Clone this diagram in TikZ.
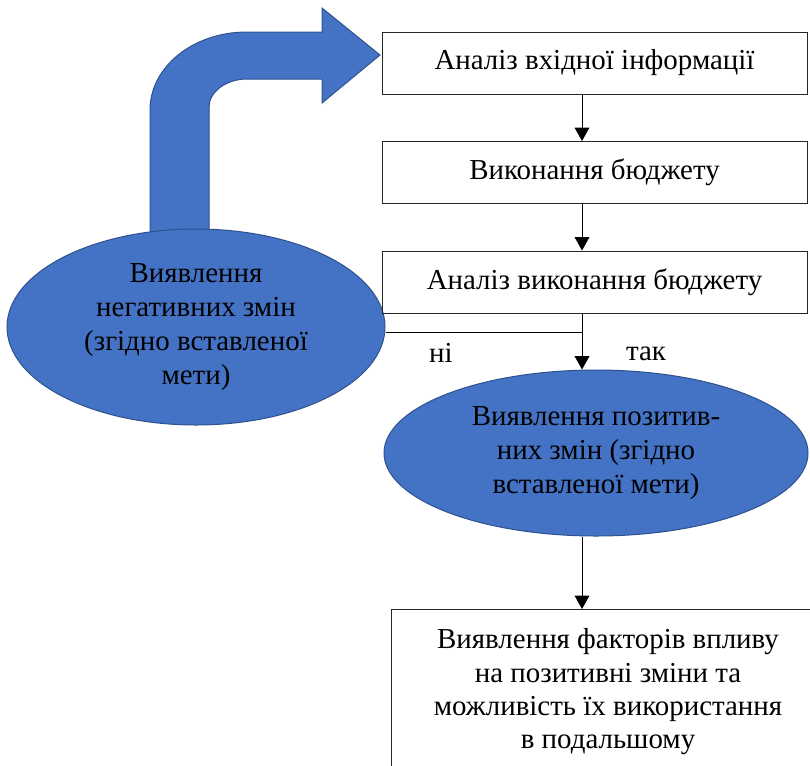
\documentclass[tikz,border=0pt]{standalone}
\usepackage{fontspec}
\setmainfont{Liberation Serif}
\usetikzlibrary{positioning, shapes, arrows.meta}
\definecolor{officeblue}{HTML}{4472C4}
\definecolor{officeedge}{HTML}{2F528F}

\begin{document}
\begin{tikzpicture}[x=0.75pt, y=-0.75pt,
    box/.style={draw=black!85, line width=0.75pt, minimum width=318.75pt, minimum height=46.5pt, inner sep=0pt, font=\fontsize{21.7}{25}\selectfont},
    goal/.style={ellipse, fill=officeblue, draw=officeedge, line width=0.75pt, inner sep=-6pt, align=center, font=\fontsize{21.7}{25.5}\selectfont},
    link/.style={line width=0.75pt, -{Triangle[width=11pt,length=10pt]}},
    lbl/.style={anchor=base, font=\fontsize{21.7}{25}\selectfont}]
      \useasboundingbox (0,0) rectangle (810,765);
      \clip (0,0) rectangle (810,765);
      % bent arrow back to the first step
      \draw[fill=officeblue, draw=officeedge, line width=0.75pt] (150,250) -- (150,110) .. controls (150,67) and (193,32) .. (247,32) -- (322,32) -- (322,8) -- (380,55) -- (322,103) -- (322,79) -- (247,79) .. controls (226,79) and (209,92) .. (209,107) -- (209,250) -- cycle;
      \node[goal, minimum width=283.5pt, minimum height=147pt] (neg) at (196,327) {Виявлення\\негативних змін\\(згідно вставленої\\мети)};
      \node[box] (b1) at (594.5,63) {Аналіз вхідної інформації};
      \node[box] (b2) at (594.5,172.5) {Виконання бюджету};
      \node[box] (b3) at (594.5,282) {Аналіз виконання бюджету};
      \node[goal, minimum width=318pt, minimum height=124.5pt] (pos) at (596,453) {Виявлення позитив-\\них змін (згідно\\вставленої мети)};
      \node[box, anchor=north, minimum width=325.5pt, align=center, inner ysep=14.5pt] (b4) at (608,609) {Виявлення факторів впливу\\на позитивні зміни та\\можливість їх використання\\в подальшому};
      \coordinate (split) at (582,332);
      \draw[link] (b1.south -| split) -- (b2.north -| split);
      \draw[link] (b2.south -| split) -- (b3.north -| split);
      \draw[link] (b3.south -| split) -- (split |- pos.north);
      \draw[line width=0.75pt] (split) -- (split -| neg.east);
      \draw[link] (pos.south -| split) -- (b4.north -| split);
      \node[lbl] (no) at (441,362) {ні};
      \node[lbl] (yes) at (646,360) {так};
    \end{tikzpicture}
\end{document}
